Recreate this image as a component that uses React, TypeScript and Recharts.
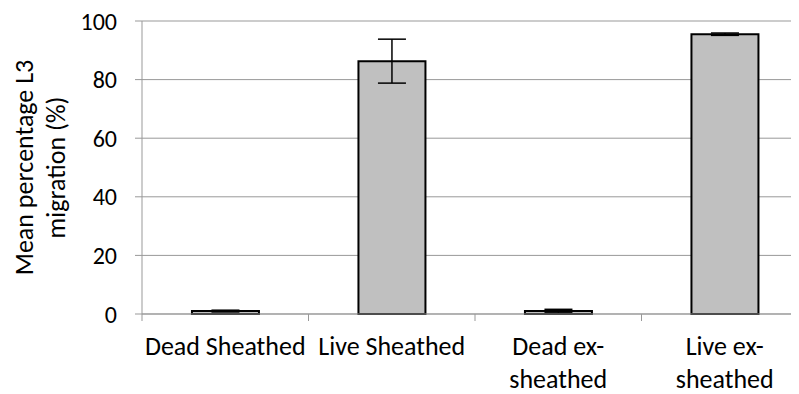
import { BarChart, Bar, XAxis, YAxis, CartesianGrid, ErrorBar } from 'recharts';

const categories = ['Dead Sheathed', 'Live Sheathed', 'Dead ex-\nsheathed', 'Live ex-\nsheathed'];
const means = [1, 86.3, 1, 95.5];
const errors = [0.3, 7.5, 0.6, 0.4];
const yTicks = [0, 20, 40, 60, 80, 100];

const data = categories.map((name, i) => ({ name, value: means[i], err: errors[i] }));

const FONT = 'Carlito, Calibri, Lato, sans-serif';
const GRID = '#999999';

// category label plus the Excel-style tick marks on the category boundaries
const CategoryTick = (props: any) => {
  const { x, y, payload, index, width, visibleTicksCount } = props;
  const half = width && visibleTicksCount ? width / visibleTicksCount / 2 : 0;
  const lines = String(payload.value).split('\n');
  return (
    <g>
      <line x1={x - half} x2={x - half} y1={y} y2={y + 7} stroke={GRID} />
      {index === visibleTicksCount - 1 && <line x1={x + half} x2={x + half} y1={y} y2={y + 7} stroke={GRID} />}
      <text x={x} y={y + 41} textAnchor="middle" fontFamily={FONT} fontSize={26} fill="#000">
        {lines.map((l, i) => (
          <tspan key={i} x={x} dy={i === 0 ? 0 : 33}>{l}</tspan>
        ))}
      </text>
    </g>
  );
};

const YLabel = (props: any) => {
  const vb = props.viewBox;
  const cx = 33;
  const cy = vb.y + vb.height / 2;
  return (
    <text x={cx} y={cy} transform={`rotate(-90, ${cx}, ${cy})`} textAnchor="middle" fontFamily={FONT} fontSize={26} fill="#000">
      <tspan x={cx} dy={-8}>Mean percentage L3</tspan>
      <tspan x={cx} dy={32}>migration (%)</tspan>
    </text>
  );
};

export default function App() {
  return (
    <div style={{ width: 791, height: 386, overflow: 'hidden', background: '#fff' }}>
      <BarChart width={804} height={386} data={data} margin={{ top: 13, right: 4, bottom: 0, left: 0 }} barCategoryGap="30%">
        <CartesianGrid vertical={false} stroke={GRID} strokeWidth={1} />
        <XAxis dataKey="name" height={80} axisLine={{ stroke: GRID }} tickLine={false} tickSize={0} tickMargin={0}
          tick={<CategoryTick />} interval={0} />
        <YAxis width={134} domain={[0, 100]} ticks={yTicks} tickSize={7} tickMargin={18}
          axisLine={{ stroke: GRID }} tickLine={{ stroke: GRID }}
          tick={{ fontFamily: FONT, fontSize: 24, fill: '#000' }} label={<YLabel />} />
        <Bar dataKey="value" fill="#c0c0c0" stroke="#000" strokeWidth={2} isAnimationActive={false}>
          <ErrorBar dataKey="err" width={14} stroke="#000" strokeWidth={1.5} />
        </Bar>
      </BarChart>
    </div>
  );
}
